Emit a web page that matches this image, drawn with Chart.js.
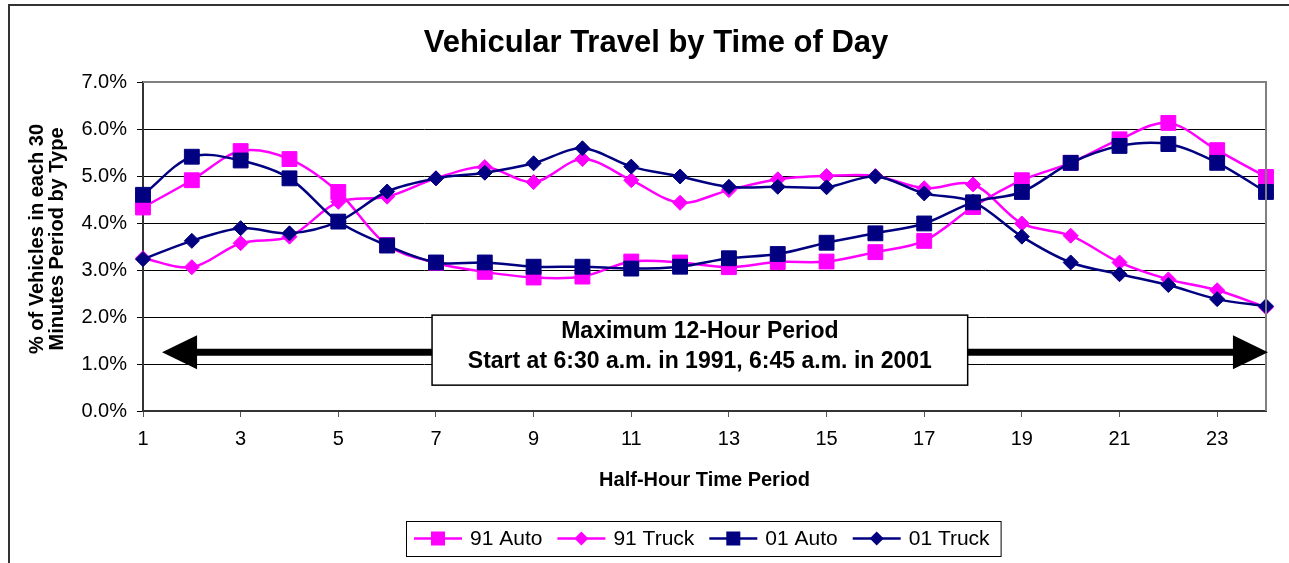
<!DOCTYPE html>
<html>
<head>
<meta charset="utf-8">
<title>Vehicular Travel by Time of Day</title>
<script src="https://cdn.jsdelivr.net/npm/chart.js@4/dist/chart.umd.min.js"></script>
<style>
  html, body { margin: 0; padding: 0; background: #fff; }
  canvas { display: block; }
</style>
</head>
<body>
<canvas id="travelChart" width="1289" height="563"></canvas>
<script>
// ---- data (percent of vehicles per half-hour period) ----
const periods = ['1', '2', '3', '4', '5', '6', '7', '8', '9', '10', '11', '12',
                 '13', '14', '15', '16', '17', '18', '19', '20', '21', '22', '23', '24'];
const auto91 = [4.33, 4.91, 5.53, 5.36, 4.66, 3.53, 3.15, 2.96, 2.84, 2.86, 3.18, 3.16,
                3.06, 3.17, 3.18, 3.38, 3.62, 4.34, 4.91, 5.28, 5.78, 6.13, 5.55, 4.98];
const truck91 = [3.25, 3.06, 3.57, 3.71, 4.45, 4.56, 4.95, 5.19, 4.87, 5.36, 4.91, 4.43,
                 4.70, 4.93, 5.00, 5.00, 4.74, 4.82, 3.99, 3.73, 3.16, 2.80, 2.57, 2.21];
const auto01 = [4.60, 5.41, 5.33, 4.95, 4.03, 3.52, 3.16, 3.16, 3.07, 3.07, 3.03, 3.07,
                3.25, 3.34, 3.58, 3.78, 3.99, 4.44, 4.66, 5.28, 5.64, 5.68, 5.28, 4.66];
const truck01 = [3.23, 3.62, 3.89, 3.78, 4.03, 4.67, 4.95, 5.07, 5.27, 5.59, 5.20, 4.99,
                 4.77, 4.77, 4.76, 4.99, 4.63, 4.45, 3.71, 3.16, 2.91, 2.68, 2.38, 2.23];
const yTicks = [0, 1, 2, 3, 4, 5, 6, 7];

const MAGENTA = '#ff00ff';
const NAVY = '#000080';
const FONT = 'Arial, "Liberation Sans", sans-serif';

Chart.defaults.font.family = FONT;
Chart.defaults.color = '#000';

function series(label, data, color, style, order) {
    const isRect = style === 'rect';
    return {
        label: label,
        data: data,
        borderColor: color,
        backgroundColor: color,
        borderWidth: 2.5,
        pointStyle: style,
        pointRadius: isRect ? 10.5 : 7.5,
        pointHoverRadius: isRect ? 10.5 : 7.5,
        pointBackgroundColor: color,
        pointBorderColor: color,
        pointBorderWidth: 1,
        tension: 0.33,
        clip: false,
        order: order
    };
}

// titles, borders, annotation arrow box and legend
const decorPlugin = {
    id: 'decor',
    beforeDraw(chart) {
        const ctx = chart.ctx;
        ctx.save();
        ctx.fillStyle = '#fff';
        ctx.fillRect(0, 0, chart.width, chart.height);
        ctx.strokeStyle = '#333';
        ctx.lineWidth = 2;
        ctx.strokeRect(9, 5, chart.width + 20, chart.height + 20);
        ctx.restore();
    },
    afterDraw(chart) {
        const ctx = chart.ctx;
        const a = chart.chartArea;
        const xs = chart.scales.x;
        const ys = chart.scales.y;
        ctx.save();

        // plot area border (top / right)
        ctx.strokeStyle = '#808080';
        ctx.lineWidth = 2;
        ctx.beginPath();
        ctx.moveTo(a.left, a.top);
        ctx.lineTo(a.right, a.top);
        ctx.lineTo(a.right, a.bottom);
        ctx.stroke();

        // chart title
        ctx.fillStyle = '#000';
        ctx.textAlign = 'center';
        ctx.textBaseline = 'alphabetic';
        ctx.font = 'bold 31px ' + FONT;
        ctx.fillText('Vehicular Travel by Time of Day', 656, 52);

        // x axis title
        ctx.font = 'bold 20px ' + FONT;
        ctx.fillText('Half-Hour Time Period', (a.left + a.right) / 2, 486);

        // y axis title (two lines, rotated)
        const yMid = 239;
        [['% of Vehicles in each 30', 43], ['Minutes Period by Type', 63]].forEach(function(l) {
            ctx.save();
            ctx.translate(l[1], yMid);
            ctx.rotate(-Math.PI / 2);
            ctx.fillText(l[0], 0, 0);
            ctx.restore();
        });

        // 12-hour period arrows
        const ay = ys.getPixelForValue(1.25);
        const leftTip = xs.getPixelForValue(0.39);
        const rightTip = xs.getPixelForValue(23.04);
        const boxL = xs.getPixelForValue(5.92);
        const boxR = xs.getPixelForValue(16.89);
        const boxT = ys.getPixelForValue(2.04);
        const boxB = ys.getPixelForValue(0.55);
        const headLen = 35, headHalf = 17;
        ctx.fillStyle = '#000';
        ctx.fillRect(leftTip + headLen - 1, ay - 3.5, boxL - leftTip - headLen + 1, 7);
        ctx.fillRect(boxR, ay - 3.5, rightTip - headLen - boxR + 1, 7);
        ctx.beginPath();
        ctx.moveTo(leftTip, ay);
        ctx.lineTo(leftTip + headLen, ay - headHalf);
        ctx.lineTo(leftTip + headLen, ay + headHalf);
        ctx.closePath();
        ctx.fill();
        ctx.beginPath();
        ctx.moveTo(rightTip, ay);
        ctx.lineTo(rightTip - headLen, ay - headHalf);
        ctx.lineTo(rightTip - headLen, ay + headHalf);
        ctx.closePath();
        ctx.fill();

        // text box
        ctx.fillStyle = '#fff';
        ctx.fillRect(boxL, boxT, boxR - boxL, boxB - boxT);
        ctx.strokeStyle = '#000';
        ctx.lineWidth = 1.5;
        ctx.strokeRect(boxL, boxT, boxR - boxL, boxB - boxT);
        ctx.fillStyle = '#000';
        ctx.font = 'bold 23px ' + FONT;
        const bx = (boxL + boxR) / 2;
        ctx.fillText('Maximum 12-Hour Period', bx, boxT + 23);
        ctx.fillText('Start at 6:30 a.m. in 1991, 6:45 a.m. in 2001', bx, boxT + 53);

        // legend
        ctx.font = '21px ' + FONT;
        ctx.textAlign = 'left';
        ctx.textBaseline = 'middle';
        const legTop = 521, legBot = 556, legY = (legTop + legBot) / 2;
        let cx = 414;
        const segLen = 48;
        const startX = 406;
        chart.data.datasets.forEach(function(ds) {
            ctx.strokeStyle = ds.borderColor;
            ctx.fillStyle = ds.borderColor;
            ctx.lineWidth = 2.5;
            ctx.beginPath();
            ctx.moveTo(cx, legY);
            ctx.lineTo(cx + segLen, legY);
            ctx.stroke();
            const mx = cx + segLen / 2;
            if (ds.pointStyle === 'rect') {
                ctx.fillRect(mx - 7, legY - 7, 14, 14);
            } else {
                ctx.beginPath();
                ctx.moveTo(mx, legY - 7);
                ctx.lineTo(mx + 7, legY);
                ctx.lineTo(mx, legY + 7);
                ctx.lineTo(mx - 7, legY);
                ctx.closePath();
                ctx.fill();
            }
            ctx.fillStyle = '#000';
            ctx.fillText(ds.label, cx + segLen + 8, legY + 1);
            cx += segLen + 8 + ctx.measureText(ds.label).width + 15;
        });
        ctx.strokeStyle = '#000';
        ctx.lineWidth = 1;
        ctx.strokeRect(startX + 0.5, legTop + 0.5, cx - startX - 4, legBot - legTop);

        ctx.restore();
    }
};

const travelCanvas = document.getElementById('travelChart');
new Chart(travelCanvas, {
    type: 'line',
    data: {
        labels: periods,
        datasets: [
            series('91 Auto', auto91, MAGENTA, 'rect', 4),
            series('91 Truck', truck91, MAGENTA, 'rectRot', 3),
            series('01 Auto', auto01, NAVY, 'rect', 2),
            series('01 Truck', truck01, NAVY, 'rectRot', 1)
        ]
    },
    options: {
        responsive: false,
        animation: false,
        layout: { padding: { top: 82, right: 23, bottom: 0, left: 0 } },
        plugins: {
            legend: { display: false },
            title: { display: false },
            tooltip: { enabled: false }
        },
        scales: {
            x: {
                type: 'category',
                offset: false,
                afterFit: function(scale) { scale.height = 152; },
                border: { color: '#333', width: 2 },
                grid: {
                    drawOnChartArea: false,
                    drawTicks: true,
                    tickLength: 6,
                    color: function(c) { return c.index % 2 === 0 ? '#555' : 'rgba(0,0,0,0)'; },
                    tickColor: function(c) { return c.index % 2 === 0 ? '#555' : 'rgba(0,0,0,0)'; }
                },
                ticks: {
                    autoSkip: false,
                    maxRotation: 0,
                    padding: 10,
                    font: { size: 20 },
                    color: '#000',
                    callback: function(v, i) { return i % 2 === 0 ? periods[i] : ''; }
                }
            },
            y: {
                min: yTicks[0],
                max: yTicks[yTicks.length - 1],
                afterFit: function(scale) { scale.width = 143; },
                afterBuildTicks: function(scale) {
                    scale.ticks = yTicks.map(function(v) { return { value: v }; });
                },
                border: { color: '#333', width: 2 },
                grid: {
                    color: function(c) { return c.tick && c.tick.value === 7 ? '#808080' : '#000'; },
                    tickColor: '#000',
                    tickLength: 6,
                    lineWidth: 1
                },
                ticks: {
                    padding: 10,
                    font: { size: 20 },
                    color: '#000',
                    callback: function(v) { return v.toFixed(1) + '%'; }
                }
            }
        }
    },
    plugins: [decorPlugin]
});
</script>
</body>
</html>
